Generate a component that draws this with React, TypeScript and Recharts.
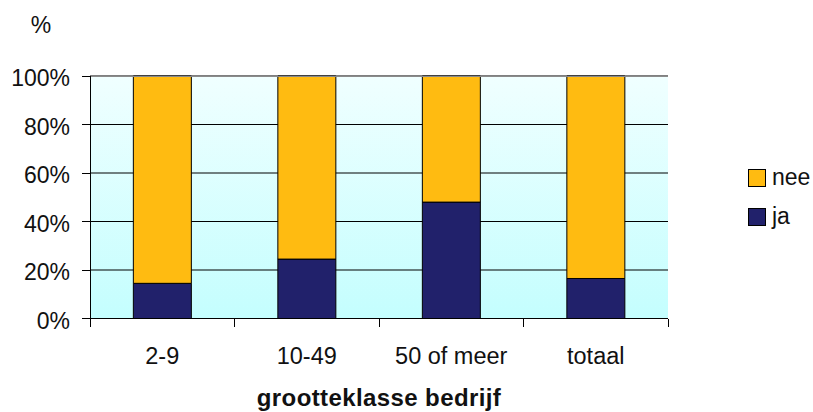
import {
    Bar,
    BarChart,
    CartesianGrid,
    Legend,
    ReferenceLine,
    XAxis,
    YAxis,
} from "recharts";

const categories = ["2-9", "10-49", "50 of meer", "totaal"];
const jaValues = [14.5, 24.5, 48, 16.5];
const neeValues = [85.5, 75.5, 52, 83.5];
const yTicks = [0, 20, 40, 60, 80, 100];

const series = [
    { key: "nee", name: "nee", color: "#FFBB11" },
    { key: "ja", name: "ja", color: "#21216B" },
];

const data = categories.map((category, i) => ({
    category,
    ja: jaValues[i],
    nee: neeValues[i],
}));

const FONT = '"Liberation Sans", Arial, sans-serif';
const TEXT = "#111";
const TICK_MARGIN = 29;

// category labels sit in the middle of the band, but the tick marks go on the
// band edges like in the old spreadsheet chart
function CategoryTick(props: any) {
    const { x, y, payload, index, visibleTicksCount } = props;
    const half = payload.offset || 0;
    const axisY = y - TICK_MARGIN;
    const line = (lx: number) => (
        <line
            x1={lx}
            x2={lx}
            y1={axisY}
            y2={axisY + 8}
            stroke="#000"
            shapeRendering="crispEdges"
        />
    );
    return (
        <g>
            {line(x - half)}
            {index === visibleTicksCount - 1 && line(x + half)}
            <text
                x={x}
                y={y}
                dy="0.71em"
                textAnchor="middle"
                fontSize={23.5}
                fill={TEXT}
                fontFamily={FONT}
            >
                {payload.value}
            </text>
        </g>
    );
}

function LegendBox() {
    return (
        <div style={{ fontFamily: FONT, fontSize: 23, color: TEXT }}>
            {series.map((s) => (
                <div
                    key={s.key}
                    style={{ display: "flex", alignItems: "center", height: 39 }}
                >
                    <span
                        style={{
                            display: "inline-block",
                            width: 18,
                            height: 18,
                            boxSizing: "border-box",
                            border: "1px solid #000",
                            background: s.color,
                        }}
                    />
                    <span style={{ marginLeft: 6 }}>{s.name}</span>
                </div>
            ))}
        </div>
    );
}

export default function App() {
    return (
        <div
            style={{
                position: "absolute",
                left: 0,
                top: 0,
                width: 813,
                height: 412,
                background: "#fff",
            }}
        >
            <BarChart
                width={813}
                height={412}
                data={data}
                margin={{ top: 76, right: 145, bottom: 53.5, left: 0 }}
                barCategoryGap="30%"
            >
                <defs>
                    <linearGradient id="plotBg" x1="0" y1="0" x2="0" y2="1">
                        <stop offset="0%" stopColor="#F0FFFF" />
                        <stop offset="100%" stopColor="#C4FEFE" />
                    </linearGradient>
                </defs>
                <CartesianGrid
                    vertical={false}
                    horizontal={{ shapeRendering: "crispEdges" }}
                    stroke="#000"
                    fill="url(#plotBg)"
                    fillOpacity={1}
                />
                <XAxis
                    dataKey="category"
                    height={40}
                    interval={0}
                    axisLine={{ stroke: "#000", shapeRendering: "crispEdges" }}
                    tickLine={false}
                    tickSize={0}
                    tickMargin={TICK_MARGIN}
                    tick={<CategoryTick />}
                    label={{
                        value: "grootteklasse bedrijf",
                        position: "bottom",
                        offset: 30.5,
                        fontSize: 24,
                        fontWeight: "bold",
                        letterSpacing: 0.4,
                        fill: TEXT,
                        fontFamily: FONT,
                    }}
                />
                <YAxis
                    width={90}
                    domain={[0, 100]}
                    ticks={yTicks}
                    tickFormatter={(v) => `${v}%`}
                    tickSize={8}
                    tickMargin={12}
                    axisLine={{ stroke: "#000", shapeRendering: "crispEdges" }}
                    tickLine={{ stroke: "#000", shapeRendering: "crispEdges" }}
                    tick={{ fontSize: 23, fill: TEXT, fontFamily: FONT, dy: 2 }}
                    label={{
                        value: "%",
                        position: "top",
                        offset: 43,
                        dx: -4,
                        fontSize: 23,
                        fill: TEXT,
                        fontFamily: FONT,
                    }}
                />
                <YAxis
                    yAxisId="right"
                    orientation="right"
                    width={0}
                    domain={[0, 100]}
                    tick={false}
                    tickLine={false}
                    axisLine={{ stroke: "#8a8a8a", shapeRendering: "crispEdges" }}
                />
                <ReferenceLine y={100} stroke="#8a8a8a" shapeRendering="crispEdges" />
                <Bar
                    dataKey="ja"
                    name="ja"
                    stackId="a"
                    fill="#21216B"
                    stroke="#000"
                    strokeWidth={1}
                    isAnimationActive={false}
                />
                <Bar
                    dataKey="nee"
                    name="nee"
                    stackId="a"
                    fill="#FFBB11"
                    stroke="#000"
                    strokeWidth={1}
                    isAnimationActive={false}
                />
                <Legend
                    layout="horizontal"
                    verticalAlign="middle"
                    align="center"
                    content={<LegendBox />}
                    wrapperStyle={{ left: 748, top: 158, width: "auto" }}
                />
            </BarChart>
        </div>
    );
}
